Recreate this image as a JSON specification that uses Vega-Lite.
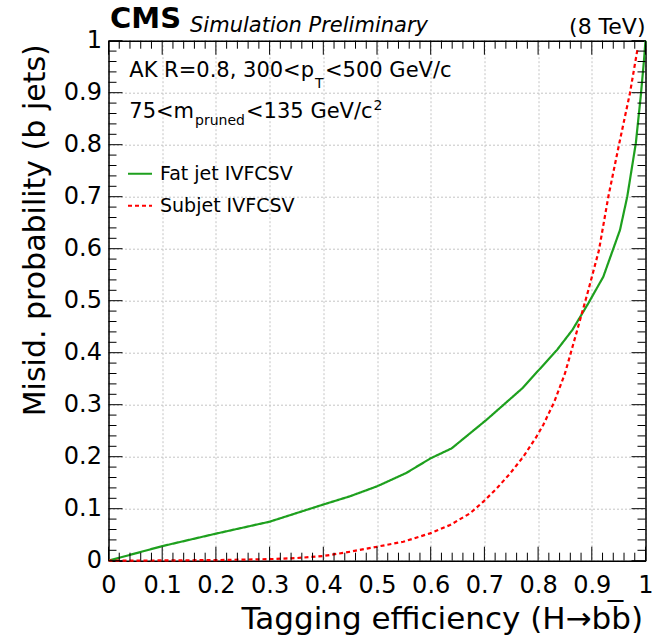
{
  "$schema": "https://vega.github.io/schema/vega-lite/v6.json",
  "width": 537,
  "height": 520,
  "autosize": {"type": "none"},
  "padding": {"left": 108.5, "top": 40.7, "right": 8.5, "bottom": 79.3},
  "background": "white",
  "config": {
    "view": {"stroke": null},
    "font": "DejaVu Sans",
    "text": {"font": "DejaVu Sans", "color": "black"}
  },
  "datasets": {
    "curves": [
      {"series": "Fat jet IVFCSV", "eff": 0, "mis": 0},
      {"series": "Fat jet IVFCSV", "eff": 0.05, "mis": 0.014},
      {"series": "Fat jet IVFCSV", "eff": 0.1, "mis": 0.028},
      {"series": "Fat jet IVFCSV", "eff": 0.2, "mis": 0.052},
      {"series": "Fat jet IVFCSV", "eff": 0.3, "mis": 0.075},
      {"series": "Fat jet IVFCSV", "eff": 0.4, "mis": 0.108},
      {"series": "Fat jet IVFCSV", "eff": 0.45, "mis": 0.124},
      {"series": "Fat jet IVFCSV", "eff": 0.5, "mis": 0.143},
      {"series": "Fat jet IVFCSV", "eff": 0.555, "mis": 0.169},
      {"series": "Fat jet IVFCSV", "eff": 0.6, "mis": 0.197},
      {"series": "Fat jet IVFCSV", "eff": 0.639, "mis": 0.216},
      {"series": "Fat jet IVFCSV", "eff": 0.704, "mis": 0.271},
      {"series": "Fat jet IVFCSV", "eff": 0.77, "mis": 0.331},
      {"series": "Fat jet IVFCSV", "eff": 0.835, "mis": 0.405},
      {"series": "Fat jet IVFCSV", "eff": 0.864, "mis": 0.444},
      {"series": "Fat jet IVFCSV", "eff": 0.8935, "mis": 0.495},
      {"series": "Fat jet IVFCSV", "eff": 0.9214, "mis": 0.546},
      {"series": "Fat jet IVFCSV", "eff": 0.9525, "mis": 0.636},
      {"series": "Fat jet IVFCSV", "eff": 0.966, "mis": 0.7},
      {"series": "Fat jet IVFCSV", "eff": 0.982, "mis": 0.803},
      {"series": "Fat jet IVFCSV", "eff": 0.991, "mis": 0.892},
      {"series": "Fat jet IVFCSV", "eff": 0.997, "mis": 0.96},
      {"series": "Fat jet IVFCSV", "eff": 1.0, "mis": 1.0},
      {"series": "Subjet IVFCSV", "eff": 0, "mis": 0},
      {"series": "Subjet IVFCSV", "eff": 0.1, "mis": 0.0005},
      {"series": "Subjet IVFCSV", "eff": 0.2, "mis": 0.0012},
      {"series": "Subjet IVFCSV", "eff": 0.3, "mis": 0.003},
      {"series": "Subjet IVFCSV", "eff": 0.35, "mis": 0.005},
      {"series": "Subjet IVFCSV", "eff": 0.4, "mis": 0.009},
      {"series": "Subjet IVFCSV", "eff": 0.45, "mis": 0.0173},
      {"series": "Subjet IVFCSV", "eff": 0.5, "mis": 0.0269},
      {"series": "Subjet IVFCSV", "eff": 0.549, "mis": 0.0365},
      {"series": "Subjet IVFCSV", "eff": 0.5987, "mis": 0.0526},
      {"series": "Subjet IVFCSV", "eff": 0.636, "mis": 0.0686},
      {"series": "Subjet IVFCSV", "eff": 0.673, "mis": 0.091},
      {"series": "Subjet IVFCSV", "eff": 0.698, "mis": 0.1135},
      {"series": "Subjet IVFCSV", "eff": 0.723, "mis": 0.139},
      {"series": "Subjet IVFCSV", "eff": 0.748, "mis": 0.168},
      {"series": "Subjet IVFCSV", "eff": 0.7725, "mis": 0.2},
      {"series": "Subjet IVFCSV", "eff": 0.797, "mis": 0.2385},
      {"series": "Subjet IVFCSV", "eff": 0.81, "mis": 0.262},
      {"series": "Subjet IVFCSV", "eff": 0.83, "mis": 0.305},
      {"series": "Subjet IVFCSV", "eff": 0.85, "mis": 0.36},
      {"series": "Subjet IVFCSV", "eff": 0.873, "mis": 0.444},
      {"series": "Subjet IVFCSV", "eff": 0.8935, "mis": 0.52},
      {"series": "Subjet IVFCSV", "eff": 0.9134, "mis": 0.5975},
      {"series": "Subjet IVFCSV", "eff": 0.9308, "mis": 0.7},
      {"series": "Subjet IVFCSV", "eff": 0.9512, "mis": 0.8027},
      {"series": "Subjet IVFCSV", "eff": 0.971, "mis": 0.899},
      {"series": "Subjet IVFCSV", "eff": 0.9848, "mis": 0.982}
    ],
    "notes": [
      {"kind": "cms", "label": "CMS", "eff": 0.0028, "mis": 1.0238},
      {"kind": "sim", "label": "Simulation Preliminary", "eff": 0.1518, "mis": 1.0167},
      {"kind": "energy", "label": "(8 TeV)", "eff": 1.0, "mis": 1.012},
      {"kind": "main", "label": "AK R=0.8, 300<p", "eff": 0.0387, "mis": 0.9296},
      {"kind": "main", "label": "<500 GeV/c", "eff": 0.4032, "mis": 0.9296},
      {"kind": "main", "label": "75<m", "eff": 0.0387, "mis": 0.8508},
      {"kind": "main", "label": "<135 GeV/c", "eff": 0.2561, "mis": 0.8508},
      {"kind": "script", "label": "T", "eff": 0.3845, "mis": 0.9085},
      {"kind": "script", "label": "pruned", "eff": 0.1611, "mis": 0.838},
      {"kind": "script", "label": "2", "eff": 0.4935, "mis": 0.8667}
    ],
    "majorTicks": [
      {"v": 0}, {"v": 0.1}, {"v": 0.2}, {"v": 0.3}, {"v": 0.4}, {"v": 0.5},
      {"v": 0.6}, {"v": 0.7}, {"v": 0.8}, {"v": 0.9}, {"v": 1}
    ],
    "minorTicks": [
      {"v": 0.02}, {"v": 0.04}, {"v": 0.06}, {"v": 0.08},
      {"v": 0.12}, {"v": 0.14}, {"v": 0.16}, {"v": 0.18},
      {"v": 0.22}, {"v": 0.24}, {"v": 0.26}, {"v": 0.28},
      {"v": 0.32}, {"v": 0.34}, {"v": 0.36}, {"v": 0.38},
      {"v": 0.42}, {"v": 0.44}, {"v": 0.46}, {"v": 0.48},
      {"v": 0.52}, {"v": 0.54}, {"v": 0.56}, {"v": 0.58},
      {"v": 0.62}, {"v": 0.64}, {"v": 0.66}, {"v": 0.68},
      {"v": 0.72}, {"v": 0.74}, {"v": 0.76}, {"v": 0.78},
      {"v": 0.82}, {"v": 0.84}, {"v": 0.86}, {"v": 0.88},
      {"v": 0.92}, {"v": 0.94}, {"v": 0.96}, {"v": 0.98}
    ]
  },
  "resolve": {"axis": {"x": "independent", "y": "independent"}},
  "layer": [
    {
      "data": {"name": "curves"},
      "mark": {"type": "line", "strokeWidth": 2.2, "clip": false},
      "encoding": {
        "x": {
          "field": "eff", "type": "quantitative",
          "scale": {"domain": [0, 1], "nice": false, "zero": false},
          "axis": {
            "orient": "bottom",
            "values": [0,0.1,0.2,0.3,0.4,0.5,0.6,0.7,0.8,0.9,1],
            "ticks": false,
            "domainColor": "black", "domainWidth": 1.5,
            "grid": true, "gridColor": "#c4c4c4", "gridDash": [2, 2], "gridWidth": 1,
            "labelExpr": "datum.value==0 ? '0' : (datum.value==1 ? '1' : format(datum.value,'.1f'))",
            "labelFont": "DejaVu Sans", "labelFontSize": 24, "labelColor": "black",
            "labelPadding": 12.5, "labelFlush": false, "labelOverlap": false, "labelBound": false,
            "title": "Tagging efficiency (H→bb̅)",
            "titleFont": "DejaVu Sans", "titleFontSize": 31, "titleFontWeight": "normal", "titleColor": "black",
            "titleAnchor": "end", "titleAlign": "right", "titleBaseline": "alphabetic",
            "titleX": 534, "titleY": 67.6
          }
        },
        "y": {
          "field": "mis", "type": "quantitative",
          "scale": {"domain": [0, 1], "nice": false, "zero": false},
          "axis": {
            "orient": "left",
            "values": [0,0.1,0.2,0.3,0.4,0.5,0.6,0.7,0.8,0.9,1],
            "ticks": false,
            "domainColor": "black", "domainWidth": 1.5,
            "grid": true, "gridColor": "#c4c4c4", "gridDash": [2, 2], "gridWidth": 1,
            "labelExpr": "datum.value==0 ? '0' : (datum.value==1 ? '1' : format(datum.value,'.1f'))",
            "labelFont": "DejaVu Sans", "labelFontSize": 24, "labelColor": "black",
            "labelPadding": 7, "labelFlush": false, "labelOverlap": false, "labelBound": false,
            "title": "Misid. probability (b jets)",
            "titleFont": "DejaVu Sans", "titleFontSize": 30, "titleFontWeight": "normal", "titleColor": "black",
            "titleAnchor": "end", "titleAlign": "right", "titleBaseline": "alphabetic", "titleAngle": -90,
            "titleX": -64, "titleY": 3
          }
        },
        "color": {
          "field": "series", "type": "nominal",
          "scale": {"domain": ["Fat jet IVFCSV", "Subjet IVFCSV"], "range": ["#1ea01e", "#ff0000"]},
          "legend": {
            "orient": "none", "legendX": 18.5, "legendY": 120,
            "title": null, "symbolType": "stroke", "symbolSize": 576, "symbolStrokeWidth": 2,
            "labelFont": "DejaVu Sans", "labelFontSize": 19, "labelColor": "black",
            "labelOffset": 7, "rowPadding": 9, "padding": 0
          }
        },
        "strokeDash": {
          "field": "series", "type": "nominal",
          "scale": {"domain": ["Fat jet IVFCSV", "Subjet IVFCSV"], "range": [[1, 0], [4, 3]]},
          "legend": {
            "orient": "none", "legendX": 18.5, "legendY": 120,
            "title": null, "symbolType": "stroke", "symbolSize": 576, "symbolStrokeWidth": 2,
            "labelFont": "DejaVu Sans", "labelFontSize": 19, "labelColor": "black",
            "labelOffset": 7, "rowPadding": 9, "padding": 0
          }
        }
      }
    },
    {
      "data": {"name": "notes"},
      "transform": [{"filter": "datum.kind == 'main'"}],
      "mark": {"type": "text", "font": "DejaVu Sans", "fontSize": 21, "align": "left", "baseline": "alphabetic", "color": "black"},
      "encoding": {
        "x": {
          "field": "eff", "type": "quantitative",
          "scale": {"domain": [0, 1], "nice": false, "zero": false},
          "axis": {"orient": "top", "ticks": false, "domainColor": "black", "domainWidth": 1.5, "grid": false, "labels": false, "title": null}
        },
        "y": {
          "field": "mis", "type": "quantitative",
          "scale": {"domain": [0, 1], "nice": false, "zero": false},
          "axis": {"orient": "right", "ticks": false, "domainColor": "black", "domainWidth": 1.5, "grid": false, "labels": false, "title": null}
        },
        "text": {"field": "label", "type": "nominal"}
      }
    },
    {
      "data": {"name": "notes"},
      "transform": [{"filter": "datum.kind == 'script'"}],
      "mark": {"type": "text", "font": "DejaVu Sans", "fontSize": 14, "align": "left", "baseline": "alphabetic", "color": "black"},
      "encoding": {
        "x": {"field": "eff", "type": "quantitative", "scale": {"domain": [0, 1], "nice": false, "zero": false}, "axis": null},
        "y": {"field": "mis", "type": "quantitative", "scale": {"domain": [0, 1], "nice": false, "zero": false}, "axis": null},
        "text": {"field": "label", "type": "nominal"}
      }
    },
    {
      "data": {"name": "notes"},
      "transform": [{"filter": "datum.kind == 'cms'"}],
      "mark": {"type": "text", "font": "DejaVu Sans", "fontSize": 29, "fontWeight": "bold", "align": "left", "baseline": "alphabetic", "color": "black"},
      "encoding": {
        "x": {"field": "eff", "type": "quantitative", "scale": {"domain": [0, 1], "nice": false, "zero": false}, "axis": null},
        "y": {"field": "mis", "type": "quantitative", "scale": {"domain": [0, 1], "nice": false, "zero": false}, "axis": null},
        "text": {"field": "label", "type": "nominal"}
      }
    },
    {
      "data": {"name": "notes"},
      "transform": [{"filter": "datum.kind == 'sim'"}],
      "mark": {"type": "text", "font": "DejaVu Sans", "fontSize": 21, "fontStyle": "italic", "align": "left", "baseline": "alphabetic", "color": "black"},
      "encoding": {
        "x": {"field": "eff", "type": "quantitative", "scale": {"domain": [0, 1], "nice": false, "zero": false}, "axis": null},
        "y": {"field": "mis", "type": "quantitative", "scale": {"domain": [0, 1], "nice": false, "zero": false}, "axis": null},
        "text": {"field": "label", "type": "nominal"}
      }
    },
    {
      "data": {"name": "notes"},
      "transform": [{"filter": "datum.kind == 'energy'"}],
      "mark": {"type": "text", "font": "DejaVu Sans", "fontSize": 22, "align": "right", "baseline": "alphabetic", "color": "black"},
      "encoding": {
        "x": {"field": "eff", "type": "quantitative", "scale": {"domain": [0, 1], "nice": false, "zero": false}, "axis": null},
        "y": {"field": "mis", "type": "quantitative", "scale": {"domain": [0, 1], "nice": false, "zero": false}, "axis": null},
        "text": {"field": "label", "type": "nominal"}
      }
    },
    {
      "data": {"name": "majorTicks"},
      "mark": {"type": "rule", "color": "black", "strokeWidth": 1},
      "encoding": {
        "x": {"field": "v", "type": "quantitative", "scale": {"domain": [0, 1], "nice": false, "zero": false}, "axis": null},
        "y": {"datum": 0, "type": "quantitative", "scale": {"domain": [0, 1], "nice": false, "zero": false}, "axis": null},
        "y2": {"datum": 0.0269}
      }
    },
    {
      "data": {"name": "majorTicks"},
      "mark": {"type": "rule", "color": "black", "strokeWidth": 1},
      "encoding": {
        "x": {"field": "v", "type": "quantitative", "scale": {"domain": [0, 1], "nice": false, "zero": false}, "axis": null},
        "y": {"datum": 1, "type": "quantitative", "scale": {"domain": [0, 1], "nice": false, "zero": false}, "axis": null},
        "y2": {"datum": 0.9731}
      }
    },
    {
      "data": {"name": "majorTicks"},
      "mark": {"type": "rule", "color": "black", "strokeWidth": 1},
      "encoding": {
        "y": {"field": "v", "type": "quantitative", "scale": {"domain": [0, 1], "nice": false, "zero": false}, "axis": null},
        "x": {"datum": 0, "type": "quantitative", "scale": {"domain": [0, 1], "nice": false, "zero": false}, "axis": null},
        "x2": {"datum": 0.0261}
      }
    },
    {
      "data": {"name": "majorTicks"},
      "mark": {"type": "rule", "color": "black", "strokeWidth": 1},
      "encoding": {
        "y": {"field": "v", "type": "quantitative", "scale": {"domain": [0, 1], "nice": false, "zero": false}, "axis": null},
        "x": {"datum": 1, "type": "quantitative", "scale": {"domain": [0, 1], "nice": false, "zero": false}, "axis": null},
        "x2": {"datum": 0.9739}
      }
    },
    {
      "data": {"name": "minorTicks"},
      "mark": {"type": "rule", "color": "black", "strokeWidth": 1},
      "encoding": {
        "x": {"field": "v", "type": "quantitative", "scale": {"domain": [0, 1], "nice": false, "zero": false}, "axis": null},
        "y": {"datum": 0, "type": "quantitative", "scale": {"domain": [0, 1], "nice": false, "zero": false}, "axis": null},
        "y2": {"datum": 0.0154}
      }
    },
    {
      "data": {"name": "minorTicks"},
      "mark": {"type": "rule", "color": "black", "strokeWidth": 1},
      "encoding": {
        "x": {"field": "v", "type": "quantitative", "scale": {"domain": [0, 1], "nice": false, "zero": false}, "axis": null},
        "y": {"datum": 1, "type": "quantitative", "scale": {"domain": [0, 1], "nice": false, "zero": false}, "axis": null},
        "y2": {"datum": 0.9846}
      }
    },
    {
      "data": {"name": "minorTicks"},
      "mark": {"type": "rule", "color": "black", "strokeWidth": 1},
      "encoding": {
        "y": {"field": "v", "type": "quantitative", "scale": {"domain": [0, 1], "nice": false, "zero": false}, "axis": null},
        "x": {"datum": 0, "type": "quantitative", "scale": {"domain": [0, 1], "nice": false, "zero": false}, "axis": null},
        "x2": {"datum": 0.0149}
      }
    },
    {
      "data": {"name": "minorTicks"},
      "mark": {"type": "rule", "color": "black", "strokeWidth": 1},
      "encoding": {
        "y": {"field": "v", "type": "quantitative", "scale": {"domain": [0, 1], "nice": false, "zero": false}, "axis": null},
        "x": {"datum": 1, "type": "quantitative", "scale": {"domain": [0, 1], "nice": false, "zero": false}, "axis": null},
        "x2": {"datum": 0.9851}
      }
    }
  ]
}
